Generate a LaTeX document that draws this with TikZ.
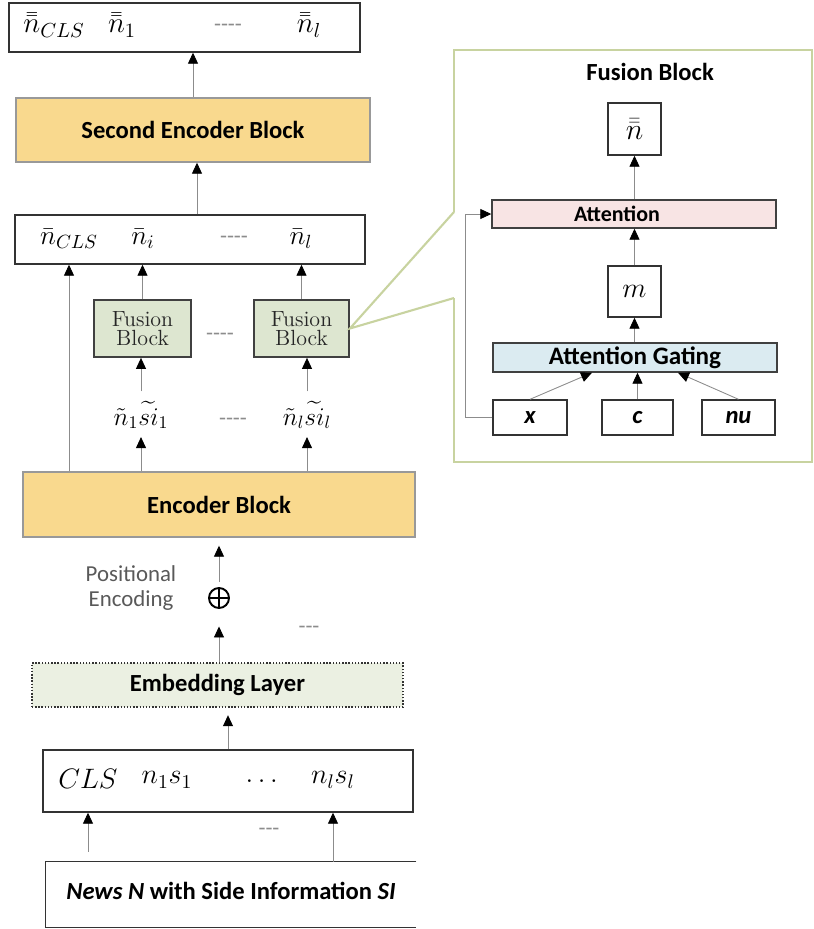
\RequirePackage{fix-cm}
\documentclass[tikz,border=0pt]{standalone}
\usepackage{amsmath}
\usepackage{fontspec}
\setsansfont{Carlito}
\usepackage{tikz}
\usetikzlibrary{arrows.meta,calc}

\definecolor{encfill}{RGB}{249,217,142}
\definecolor{fusfill}{RGB}{221,230,208}
\definecolor{embfill}{RGB}{235,240,226}
\definecolor{attfill}{RGB}{248,228,228}
\definecolor{gatefill}{RGB}{219,235,241}
\definecolor{panelline}{RGB}{200,211,160}

\tikzset{
  box/.style={draw=black!80, line width=0.8pt, fill=white, inner sep=0pt},   % plain white box
  encbox/.style={box, draw=black!40, fill=encfill, font=\sffamily\bfseries\fontsize{14}{16}\selectfont},
  fusbox/.style={box, draw=black!75, line width=1pt, fill=fusfill, align=center,
                 text=black!85, font=\rmfamily\fontsize{12.5}{11}\selectfont},
  embbox/.style={box, densely dotted, fill=embfill, font=\sffamily\bfseries\fontsize{14}{16}\selectfont},
  attbox/.style={box, draw=black!75, fill=attfill, font=\sffamily\bfseries\fontsize{12.5}{14}\selectfont},
  gatebox/.style={box, draw=black!75, fill=gatefill, font=\sffamily\bfseries\fontsize{14.3}{16}\selectfont},
  inbox/.style={box, draw=black!80, font=\sffamily\bfseries\itshape\fontsize{14}{16}\selectfont},
  lab/.style={inner sep=1pt},
  dashtxt/.style={inner sep=0pt, text=black!45, font=\sffamily\fontsize{13}{13}\selectfont},
  arr/.style={draw=black!45, line width=0.5pt, -{Triangle[width=2mm,length=2.2mm,color=black]}},
  panel/.style={draw=panelline, line width=1.2pt},
}

\begin{document}
\begin{tikzpicture}[x=0.2mm,y=-0.2mm]
\useasboundingbox (0,0) rectangle (814,929);

% output of second encoder
\node[box, minimum width=70.2mm, minimum height=9.8mm] (top) at (184.5,27.5) {};
\node[lab, font=\fontsize{16.5}{16.5}\selectfont] (t0) at (54,25) {$\bar{\bar{n}}_{CLS}$};
\node[lab, font=\fontsize{16.5}{16.5}\selectfont] (t1) at (122,25) {$\bar{\bar{n}}_1$};
\node[dashtxt] (tdots) at (228,28) {-{}-{}-{}-};
\node[lab, font=\fontsize{16.5}{16.5}\selectfont] (tl) at (309,25) {$\bar{\bar{n}}_l$};

\node[encbox, minimum width=70.8mm, minimum height=12.8mm] (enc2) at (193,130) {Second Encoder Block};

% fused tokens
\node[box, minimum width=70mm, minimum height=9.8mm] (mid) at (190,239.5) {};
\node[lab, font=\fontsize{15.5}{15.5}\selectfont] (m0) at (69,239) {$\bar{n}_{CLS}$};
\node[lab, font=\fontsize{15.5}{15.5}\selectfont] (m1) at (143,239) {$\bar{n}_i$};
\node[dashtxt] (mdots) at (234,240) {-{}-{}-{}-};
\node[lab, font=\fontsize{15.5}{15.5}\selectfont] (ml) at (301,239) {$\bar{n}_l$};

\node[fusbox, minimum width=19.4mm, minimum height=11.4mm] (fb1) at (142.5,328.5) {Fusion\\Block};
\node[fusbox, minimum width=19mm, minimum height=11.4mm] (fb2) at (301.5,328.5) {Fusion\\Block};
\node[dashtxt] (fdots) at (220,337) {-{}-{}-{}-};

\node[lab, font=\fontsize{14.5}{14.5}\selectfont] (s1) at (141,415) {$\tilde{n}_1\widetilde{si}_1$};
\node[dashtxt] (sdots) at (233,422) {-{}-{}-{}-};
\node[lab, font=\fontsize{14.5}{14.5}\selectfont] (sl) at (307,415) {$\tilde{n}_l\widetilde{si}_l$};

\node[encbox, minimum width=78.4mm, minimum height=13mm] (enc1) at (219,504.5) {Encoder Block};

\node[lab, align=center, text=black!65, font=\sffamily\fontsize{13}{14}\selectfont] (pos) at (131,588) {Positional\\Encoding};
\node[draw, circle, line width=1.1pt, minimum size=4mm, inner sep=0pt] (plus) at (219,598) {};
\draw[line width=1.1pt] (plus.north) -- (plus.south) (plus.west) -- (plus.east);
\node[dashtxt] (pdots) at (309,630) {-{}-{}-};

\node[embbox, minimum width=74.2mm, minimum height=8.8mm] (emb) at (217.5,685) {Embedding Layer};

% input tokens
\node[box, minimum width=74mm, minimum height=12.4mm] (inp) at (228,781) {};
\node[lab, font=\fontsize{16}{16}\selectfont] (i0) at (88,779) {$CLS$};
\node[lab, font=\fontsize{16}{16}\selectfont] (i1) at (167,780) {$n_1s_1$};
\node[lab, font=\fontsize{16}{16}\selectfont] (idots) at (264,781) {$\dots$};
\node[lab, font=\fontsize{16}{16}\selectfont] (il) at (333,780) {$n_ls_l$};
\node[dashtxt] (ndots) at (269,832) {-{}-{}-};

\node[inner sep=0pt, minimum width=74mm, minimum height=13mm, font=\sffamily\bfseries\fontsize{14}{16}\selectfont] (news) at (231,894.5)
  {\raisebox{1.6mm}{\textit{News N} with Side Information \textit{SI}}};
\draw[line width=0.8pt, black!80] (news.north east) -- (news.north west) -- (news.south west) -- (news.south east);

% arrows
\draw[arr] (enc2.north) -- (enc2.north |- top.south);
\draw[arr] ($(mid.north)+(7,0)$) -- ($(mid.north |- enc2.south)+(7,0)$);
\draw[arr] (fb1.north) -- (fb1.north |- mid.south);
\draw[arr] (fb2.north) -- (fb2.north |- mid.south);
\draw[arr, shorten <=1.5mm] (s1.north) -- (s1.north |- fb1.south);
\draw[arr, shorten <=1.5mm] (sl.north) -- (sl.north |- fb2.south);
\draw[arr, shorten >=1.2mm] (enc1.north -| s1) -- (s1.south);
\draw[arr, shorten >=1.2mm] (enc1.north -| sl) -- (sl.south);
\draw[arr] (enc1.north -| m0) -- (m0 |- mid.south);
\draw[arr, shorten <=1mm, shorten >=1.6mm] (plus.north) -- (enc1.south);
\draw[arr, shorten >=3.5mm] (emb.north -| plus) -- (plus.south);
\draw[arr, shorten >=1.5mm] (inp.north) -- (inp.north |- emb.south);
\draw[arr, shorten <=2mm] (news.north -| i0) -- (i0 |- inp.south);
\draw[arr] (news.north -| il) -- (il |- inp.south);

% fusion block detail
\coordinate (pa) at (454,212);
\coordinate (pb) at (454,298);
\draw[panel] (pa) -- (454,50) -- (812,50) -- (812,462) -- (454,462) -- (pb);
\draw[panel] (pa) -- (fb2.east) -- (pb);

\node[font=\sffamily\bfseries\fontsize{14}{16}\selectfont] (title) at (650,72) {Fusion Block};
\node[box, minimum width=10.6mm, minimum height=10.4mm, font=\fontsize{17}{17}\selectfont] (nout) at (634.5,129) {$\bar{\bar{n}}$};
\node[attbox, minimum width=56.8mm, minimum height=5.6mm] (att) at (634,214) {Attention\hspace*{6.8mm}};
\node[box, minimum width=10.6mm, minimum height=10.2mm, font=\fontsize{16}{16}\selectfont] (mv) at (634.5,291.5) {$m$};
\node[gatebox, minimum width=56.8mm, minimum height=5.8mm] (gate) at (635,357.5) {Attention Gating};
\node[inbox, minimum width=14.8mm, minimum height=7mm] (xin) at (530,417.5) {x};
\node[inbox, minimum width=14.2mm, minimum height=7mm] (cin) at (637.5,417.5) {c};
\node[inbox, minimum width=14.6mm, minimum height=7mm] (nuin) at (738.5,417.5) {nu};

\draw[arr] (att.north -| nout) -- (nout.south);
\draw[arr] (mv.north) -- (mv.north |- att.south);
\draw[arr] (gate.north -| mv) -- (mv.south);
\draw[arr] (xin.north) -- ($(gate.south)+(-43,0)$);
\draw[arr] (cin.north) -- (cin.north |- gate.south);
\draw[arr] (nuin.north) -- ($(gate.south)+(43,0)$);
\draw[arr] (xin.west) -- ++(-27,0) |- (att.west);

\end{tikzpicture}
\end{document}
